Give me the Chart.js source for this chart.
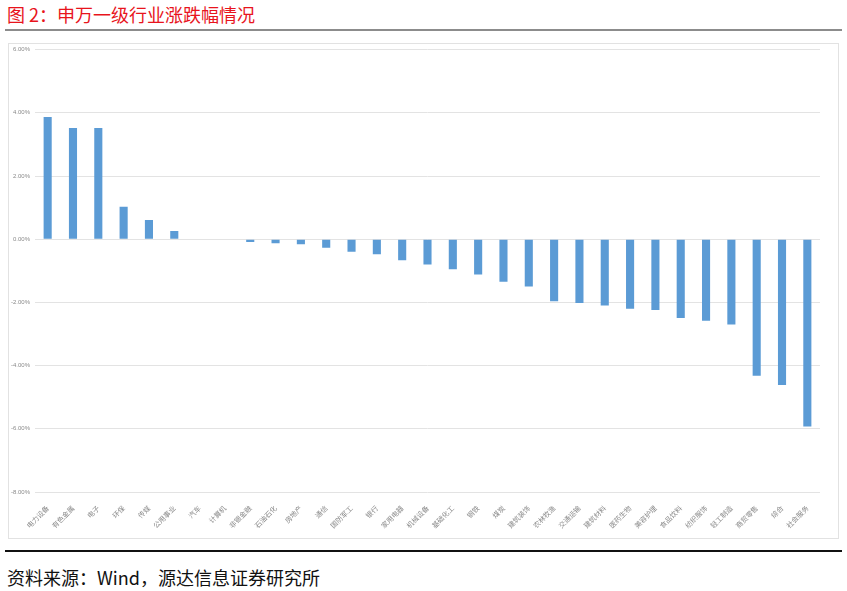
<!DOCTYPE html>
<html>
<head>
<meta charset="utf-8">
<script src="https://cdn.jsdelivr.net/npm/chart.js@4.4.1/dist/chart.umd.min.js"></script>
<style>
    body { margin: 0; width: 847px; height: 591px; background: #fff; position: relative; overflow: hidden; font-family: "Noto Sans CJK SC", "Noto Sans", sans-serif; }
    #title { position: absolute; left: 7px; top: 2px; font-size: 18px; color: #e8141c; line-height: 24px; }
    #title-rule { position: absolute; left: 5px; top: 29px; width: 837px; height: 2px; background: #8c8c8c; }
    #box { position: absolute; left: 8px; top: 43px; width: 829px; height: 494px; border: 1px solid #e2e2e2; }
    #chart { position: absolute; left: 0; top: -3px; }
    #source-rule { position: absolute; left: 5px; top: 550px; width: 837px; height: 2px; background: #111; }
    #source { position: absolute; left: 7px; top: 565px; font-size: 18px; color: #111; line-height: 24px; }
</style>
</head>
<body>
<div id="title">图 2：申万一级行业涨跌幅情况</div>
<div id="title-rule"></div>
<div id="box"><canvas id="chart" width="829" height="497"></canvas></div>
<div id="source-rule"></div>
<div id="source">资料来源：Wind，源达信息证券研究所</div>
<script>
const industries = ['电力设备', '有色金属', '电子', '环保', '传媒', '公用事业', '汽车', '计算机', '非银金融', '石油石化',
    '房地产', '通信', '国防军工', '银行', '家用电器', '机械设备', '基础化工', '钢铁', '煤炭', '建筑装饰',
    '农林牧渔', '交通运输', '建筑材料', '医药生物', '美容护理', '食品饮料', '纺织服饰', '轻工制造', '商贸零售', '综合', '社会服务'];
const changePct = [3.87, 3.52, 3.52, 1.03, 0.61, 0.26, 0, 0, -0.09, -0.13,
    -0.16, -0.27, -0.40, -0.48, -0.67, -0.80, -0.95, -1.12, -1.35, -1.50,
    -1.96, -2.02, -2.10, -2.20, -2.24, -2.49, -2.58, -2.70, -4.32, -4.61, -5.93];
const yMin = -8, yMax = 6, yStep = 2;

document.addEventListener('DOMContentLoaded', () => {
    const ctx = document.getElementById('chart').getContext('2d');
    new Chart(ctx, {
        type: 'bar',
        data: {
            labels: industries,
            datasets: [{
                data: changePct,
                backgroundColor: '#5b9bd5',
                borderWidth: 0,
                categoryPercentage: 1,
                barPercentage: 0.32
            }]
        },
        options: {
            responsive: false,
            animation: false,
            layout: { padding: { top: 2, right: 18, left: 0, bottom: 0 } },
            plugins: { legend: { display: false }, tooltip: { enabled: false } },
            scales: {
                x: {
                    grid: { display: false },
                    border: { display: false },
                    ticks: {
                        color: '#8a8a8a',
                        font: { size: 7, family: '"Noto Sans CJK SC", sans-serif' },
                        minRotation: 45,
                        maxRotation: 45,
                        autoSkip: false,
                        padding: 4
                    },
                    afterFit: (s) => { s.height = 46; }
                },
                y: {
                    min: yMin,
                    max: yMax,
                    grid: { color: '#e3e3e3', lineWidth: 1, drawTicks: false },
                    border: { display: false },
                    ticks: {
                        stepSize: yStep,
                        color: '#8a8a8a',
                        font: { size: 6, family: '"Liberation Sans", sans-serif' },
                        padding: 5,
                        callback: (v) => v.toFixed(2) + '%'
                    },
                    afterFit: (s) => { s.width = 26; }
                }
            }
        }
    });
});
</script>
</body>
</html>
